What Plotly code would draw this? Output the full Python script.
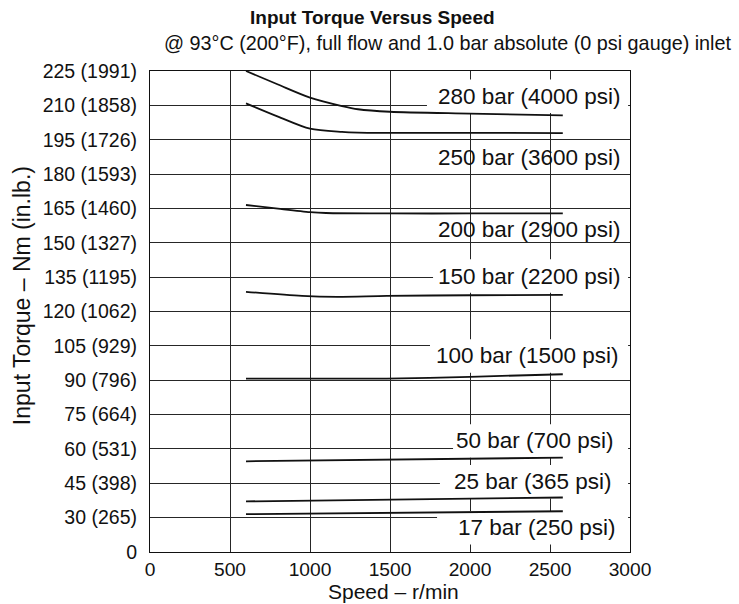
import plotly.graph_objects as go

# ---------------- data ----------------
speed_280 = [600, 800, 1000, 1200, 1300, 1500, 2000, 2580]
torque_280 = [225, 219.1, 213.4, 209.7, 208.3, 207.2, 206.4, 205.6]

speed_250 = [600, 800, 1000, 1200, 1300, 1500, 2000, 2580]
torque_250 = [210.9, 205.1, 199.8, 198.4, 198.1, 198.0, 198.0, 197.9]

speed_200 = [600, 800, 1000, 1100, 1500, 2000, 2580]
torque_200 = [166.5, 164.9, 163.4, 163.0, 162.8, 162.8, 162.8]

speed_150 = [600, 950, 1170, 1480, 2000, 2580]
torque_150 = [128.6, 126.8, 126.4, 126.8, 127.1, 127.3]

speed_100 = [600, 1000, 1480, 2000, 2580]
torque_100 = [90.7, 90.7, 90.7, 91.5, 92.6]

speed_50 = [600, 2580]
torque_50 = [54.6, 56.2]

speed_25 = [600, 2580]
torque_25 = [37.1, 38.8]

speed_17 = [600, 2580]
torque_17 = [31.5, 32.8]

curve_labels = ["280 bar (4000 psi)", "250 bar (3600 psi)", "200 bar (2900 psi)",
                "150 bar (2200 psi)", "100 bar (1500 psi)", "50 bar (700 psi)",
                "25 bar (365 psi)", "17 bar (250 psi)"]
label_torque = [214.0, 187.1, 155.6, 135.5, 100.6, 63.5, 45.7, 25.6]

x_tick_values = [0, 500, 1000, 1500, 2000, 2500, 3000]
# broken axis: bottom tick stands for 0, grid spacing is 15 Nm above 30
y_tick_values = [15, 30, 45, 60, 75, 90, 105, 120, 135, 150, 165, 180, 195, 210, 225]
y_tick_labels = ["0", "30 (265)", "45 (398)", "60 (531)", "75 (664)", "90 (796)",
                 "105 (929)", "120 (1062)", "135 (1195)", "150 (1327)", "165 (1460)",
                 "180 (1593)", "195 (1726)", "210 (1858)", "225 (1991)"]

# ---------------- styling ----------------
FONT = "Liberation Sans, Arial, Helvetica, sans-serif"
INK = "#111111"
GRID = "#262626"
label_right = [2948, 2950, 2952, 2948, 2937, 2906, 2892, 2917]
# labels whose white backing interrupts the grid (left edge of backing, in r/min)
label_mask_left = [1731, None, None, 1769, 1750, 1894, 1812, 1794]
MASK_HALF = 7.3
MASK_RIGHT = 2988

fig = go.Figure()
series = [(speed_280, torque_280), (speed_250, torque_250), (speed_200, torque_200),
          (speed_150, torque_150), (speed_100, torque_100), (speed_50, torque_50),
          (speed_25, torque_25), (speed_17, torque_17)]
for sx, sy in series:
    fig.add_trace(go.Scatter(x=sx, y=sy, mode="lines",
                             line=dict(color=INK, width=1.8, shape="spline", smoothing=0.8),
                             hoverinfo="skip"))

shapes = []
annotations = []
for txt, ty, rx, mx in zip(curve_labels, label_torque, label_right, label_mask_left):
    if mx is not None:
        shapes.append(dict(type="rect", xref="x", yref="y", x0=mx, x1=MASK_RIGHT,
                           y0=ty - MASK_HALF, y1=ty + MASK_HALF,
                           fillcolor="white", line=dict(width=0), layer="between"))
    annotations.append(dict(x=rx, y=ty, xref="x", yref="y", text=txt, showarrow=False,
                            xanchor="right", yanchor="middle", borderpad=0,
                            font=dict(family=FONT, size=22.5, color=INK)))

annotations += [
    dict(x=0.4625, y=1.112, xref="paper", yref="paper", text="<b>Input Torque Versus Speed</b>",
         showarrow=False, xanchor="center", yanchor="middle",
         font=dict(family=FONT, size=19, color=INK)),
    dict(x=0.62, y=1.058, xref="paper", yref="paper",
         text="@ 93°C (200°F), full flow and 1.0 bar absolute (0 psi gauge) inlet",
         showarrow=False, xanchor="center", yanchor="middle",
         font=dict(family=FONT, size=19.8, color=INK)),
    dict(x=-0.2667, y=0.534, xref="paper", yref="paper", text="Input Torque – Nm (in.lb.)",
         textangle=-90, showarrow=False, xanchor="center", yanchor="middle",
         font=dict(family=FONT, size=23, color=INK)),
    dict(x=0.508, y=-0.0815, xref="paper", yref="paper", text="Speed – r/min",
         showarrow=False, xanchor="center", yanchor="middle",
         font=dict(family=FONT, size=21, color=INK)),
]

fig.update_layout(
    width=739, height=604,
    margin=dict(l=150, r=109, t=71, b=52),
    plot_bgcolor="white", paper_bgcolor="white",
    showlegend=False,
    shapes=shapes,
    annotations=annotations,
    font=dict(family=FONT, size=19, color=INK),
)
fig.update_xaxes(range=[0, 3000], tickvals=x_tick_values, showgrid=True,
                 gridcolor=GRID, gridwidth=1, showline=True, linecolor=INK,
                 linewidth=1.2, mirror=True, ticks="", zeroline=False,
                 tickfont=dict(family=FONT, size=19.2, color=INK), ticklabelstandoff=0)
fig.update_yaxes(range=[15, 225], tickvals=y_tick_values, ticktext=y_tick_labels,
                 showgrid=True, gridcolor=GRID, gridwidth=1, showline=True,
                 linecolor=INK, linewidth=1.2, mirror=True, ticks="", zeroline=False,
                 tickfont=dict(family=FONT, size=19.5, color=INK), ticklabelstandoff=8)

# remove the default page margin so the figure fills the 739x604 window exactly
fig.write_html("out.html", config={"displayModeBar": False}, post_script=[
    "document.body.style.margin='0';"
    "document.documentElement.style.overflow='hidden';"
    "document.body.style.overflow='hidden';"
])
